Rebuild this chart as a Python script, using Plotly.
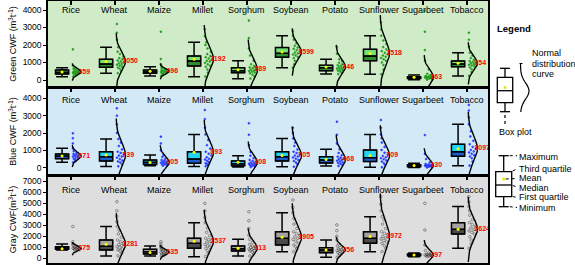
import numpy as np
import plotly.graph_objects as go

crops = ["Rice", "Wheat", "Maize", "Millet", "Sorghum", "Soybean", "Potato", "Sunflower", "Sugarbeet", "Tobacco"]

# ---------------- Green CWF ----------------
green_min = [190, 380, 230, 190, 75, 700, 340, 325, 10, 230]
green_q1 = [340, 725, 380, 800, 420, 1300, 530, 1100, 80, 760]
green_median = [440, 915, 475, 1085, 530, 1525, 700, 1370, 130, 915]
green_q3 = [570, 1180, 570, 1370, 700, 1850, 840, 1750, 190, 1085]
green_max = [700, 1870, 760, 2150, 1100, 2530, 1180, 2530, 280, 1560]
green_mean = [459, 1050, 496, 1192, 589, 1599, 746, 1518, 163, 954]
green_sd = [165, 540, 150, 650, 575, 450, 420, 730, 420, 400]
green_points = [
    [200, 260, 310, 340, 360, 390, 410, 430, 440, 455, 470, 490, 520, 545, 570, 600, 640, 700, 820, 1750],
    [390, 520, 640, 700, 760, 820, 870, 910, 950, 1000, 1060, 1120, 1180, 1250, 1350, 1480, 1620, 1870, 2300, 2700, 3200],
    [230, 290, 340, 380, 410, 440, 460, 480, 500, 520, 545, 570, 620, 690, 760, 900, 1200, 2760],
    [200, 420, 600, 750, 820, 900, 980, 1050, 1100, 1160, 1230, 1300, 1370, 1480, 1620, 1800, 2000, 2150, 2500, 2900],
    [80, 200, 300, 380, 430, 470, 510, 540, 580, 630, 680, 720, 800, 900, 1100, 1400, 1800, 2400, 3400],
    [700, 900, 1100, 1250, 1320, 1400, 1460, 1520, 1570, 1630, 1700, 1780, 1850, 1950, 2100, 2300, 2530, 2800],
    [340, 420, 480, 530, 570, 610, 650, 690, 720, 760, 800, 840, 900, 980, 1080, 1180, 1500, 1900],
    [330, 600, 850, 1000, 1100, 1180, 1260, 1330, 1400, 1470, 1550, 1650, 1750, 1880, 2050, 2250, 2530, 2900, 3300],
    [20, 50, 80, 100, 120, 140, 150, 160, 170, 180, 200, 230, 280, 350, 600, 1100, 1710, 2760, 3950],
    [240, 450, 620, 720, 780, 830, 870, 910, 950, 990, 1030, 1080, 1150, 1250, 1400, 1560, 1900, 2300, 2700],
]

# ---------------- Blue CWF ----------------
blue_min = [310, 75, 115, 75, 40, 60, 95, 20, 10, 115]
blue_q1 = [520, 385, 190, 250, 115, 385, 270, 350, 60, 655]
blue_median = [670, 635, 310, 500, 230, 635, 440, 580, 110, 920]
blue_q3 = [790, 920, 440, 920, 385, 920, 635, 1020, 170, 1350]
blue_max = [1115, 1650, 730, 1920, 690, 1690, 1060, 1920, 260, 2500]
blue_mean = [671, 739, 305, 893, 308, 705, 468, 709, 130, 1097]
blue_sd = [210, 700, 330, 620, 400, 555, 470, 580, 330, 710]
blue_points = [
    [310, 400, 470, 520, 560, 600, 640, 670, 700, 730, 760, 790, 850, 950, 1115, 1400, 1700, 1980],
    [80, 200, 300, 360, 420, 500, 580, 640, 700, 780, 850, 920, 1050, 1250, 1450, 1650, 2000, 2500, 3000, 3420],
    [115, 150, 180, 200, 230, 260, 290, 310, 340, 370, 410, 440, 520, 620, 730, 1000, 1400, 1790],
    [80, 150, 220, 260, 330, 400, 470, 520, 600, 700, 800, 920, 1100, 1300, 1600, 1920, 2300, 2800, 3330],
    [40, 80, 110, 140, 170, 200, 230, 260, 300, 340, 385, 450, 550, 690, 900, 1300, 1900, 2560],
    [60, 200, 300, 380, 450, 520, 590, 640, 700, 770, 840, 920, 1050, 1250, 1450, 1690, 2000, 2300],
    [95, 160, 220, 270, 310, 360, 400, 440, 480, 530, 580, 635, 720, 850, 1060, 1400, 1900, 2650],
    [20, 150, 260, 350, 420, 490, 550, 600, 680, 760, 860, 1020, 1200, 1450, 1700, 1920, 2300, 2750],
    [10, 40, 60, 80, 100, 110, 120, 130, 140, 160, 180, 220, 300, 500, 800, 1880],
    [120, 350, 550, 650, 720, 800, 880, 940, 1020, 1100, 1200, 1350, 1550, 1800, 2100, 2500, 2900, 3300, 3620],
]

# ---------------- Gray CWF ----------------
gray_min = [750, 210, 210, 150, 210, 600, 90, 600, 150, 905]
gray_q1 = [815, 755, 390, 905, 660, 1210, 510, 1360, 220, 2200]
gray_median = [905, 1100, 600, 1360, 875, 1810, 755, 1810, 290, 2620]
gray_q3 = [1055, 1660, 815, 1810, 1115, 2410, 965, 2410, 380, 3230]
gray_max = [1300, 2870, 1115, 3230, 1720, 4130, 1660, 3770, 480, 4680]
gray_mean = [875, 1281, 535, 1537, 913, 1905, 756, 1972, 297, 2624]
gray_sd = [200, 930, 220, 945, 600, 1025, 400, 1300, 455, 985]
gray_points = [
    [750, 780, 810, 840, 870, 890, 910, 940, 980, 1020, 1060, 1150, 1300, 1500, 2870],
    [220, 450, 650, 750, 850, 950, 1050, 1150, 1250, 1380, 1500, 1660, 1900, 2200, 2550, 2870, 3300, 3800, 4300, 5130],
    [210, 280, 340, 390, 440, 490, 540, 590, 640, 700, 760, 815, 900, 1000, 1115, 1300, 1500],
    [160, 450, 700, 900, 1000, 1120, 1250, 1360, 1480, 1600, 1700, 1810, 2050, 2350, 2750, 3230, 3700, 4300, 4980],
    [210, 400, 550, 660, 720, 790, 850, 900, 960, 1030, 1115, 1250, 1450, 1720, 2100, 2700, 3400, 4220],
    [600, 850, 1050, 1210, 1380, 1550, 1700, 1810, 1950, 2100, 2250, 2410, 2700, 3100, 3600, 4130, 4600, 5280],
    [90, 250, 400, 510, 580, 650, 720, 760, 820, 890, 965, 1100, 1300, 1660, 2000, 2500, 3020],
    [600, 900, 1150, 1360, 1480, 1620, 1750, 1850, 1980, 2120, 2260, 2410, 2700, 3100, 3500, 3770, 4300, 4900, 5580],
    [150, 190, 220, 250, 270, 290, 310, 330, 360, 400, 480, 700, 1200, 2560, 4980],
    [905, 1300, 1650, 1950, 2200, 2350, 2480, 2600, 2750, 2900, 3050, 3230, 3500, 3900, 4300, 4680, 5100, 5580],
]

ticks_4000 = [0, 1000, 2000, 3000, 4000]
ticks_7000 = [0, 1000, 2000, 3000, 4000, 5000, 6000, 7000]

FONT = "Arial, Liberation Sans, sans-serif"
W, H = 575, 265
ML, MR, MT, MB = 48, 87, 1, 2
PW, PH = W - ML - MR, H - MT - MB


def pxx(p):
    return (p - ML) / PW


def pxy(p):
    return (H - MB - p) / PH


panels = [
    dict(mins=green_min, q1=green_q1, med=green_median, q3=green_q3, maxs=green_max, mean=green_mean, sd=green_sd,
         pts=green_points, bg="#d0ebc8", light="#74e274", dark="#2f8f2f", ptcolor="#1f9e1f", ptsym="circle",
         yrange=[-400, 4514], ticks=ticks_4000, title="Green CWF (m<sup>3</sup>t<sup>-1</sup>)",
         dom=[pxy(87), pxy(1)], lab_shift=-9),
    dict(mins=blue_min, q1=blue_q1, med=blue_median, q3=blue_q3, maxs=blue_max, mean=blue_mean, sd=blue_sd,
         pts=blue_points, bg="#d3e9f6", light="#22d3f2", dark="#1f5ccc", ptcolor="#2a3cff", ptsym="circle",
         yrange=[-421, 4594], ticks=ticks_4000, title="Blue CWF (m<sup>3</sup>t<sup>-1</sup>)",
         dom=[pxy(175), pxy(88)], lab_shift=-12),
    dict(mins=gray_min, q1=gray_q1, med=gray_median, q3=gray_q3, maxs=gray_max, mean=gray_mean, sd=gray_sd,
         pts=gray_points, bg="#dedede", light="#a3a3a3", dark="#4a4a4a", ptcolor="#3a3a3a", ptsym="circle-open",
         yrange=[-426, 7453], ticks=ticks_7000, title="Gray CWF(m<sup>3</sup>t<sup>-1</sup>)",
         dom=[pxy(263), pxy(176)], lab_shift=-14),
]

fig = go.Figure()
annotations = []
pos = list(range(len(crops)))
box_pos = [p - 0.2 for p in pos]
CW = 0.21  # curve max width in category units

for k, P in enumerate(panels):
    sfx = "" if k == 0 else str(k + 1)
    xa, ya = "x" + sfx, "y" + sfx
    # lower half of box (Q1 -> median)
    fig.add_trace(go.Bar(x=box_pos, base=P["q1"], y=[m - q for m, q in zip(P["med"], P["q1"])], width=0.3,
                         marker=dict(color=P["dark"], line=dict(color="black", width=1)),
                         xaxis=xa, yaxis=ya, showlegend=False, hoverinfo="skip"))
    # upper half of box (median -> Q3)
    fig.add_trace(go.Bar(x=box_pos, base=P["med"], y=[q - m for q, m in zip(P["q3"], P["med"])], width=0.3,
                         marker=dict(color=P["light"], line=dict(color="black", width=1)),
                         xaxis=xa, yaxis=ya, showlegend=False, hoverinfo="skip"))
    # box outline + whiskers
    fig.add_trace(go.Box(x=box_pos, q1=P["q1"], median=P["med"], q3=P["q3"], lowerfence=P["mins"],
                         upperfence=P["maxs"], orientation="v", width=0.3, whiskerwidth=0.9,
                         fillcolor="rgba(0,0,0,0)", line=dict(color="black", width=1.5),
                         boxpoints=False, xaxis=xa, yaxis=ya, showlegend=False, hoverinfo="skip"))
    # normal distribution curves
    cx, cy = [], []
    for i in pos:
        m, s = P["mean"][i], P["sd"][i]
        ys = np.linspace(m - 3 * s, m + 3 * s, 90)
        xs = i + 0.03 + CW * np.exp(-0.5 * ((ys - m) / s) ** 2)
        cx += list(xs) + [None]
        cy += list(ys) + [None]
    # scattered points
    sx, sy = [], []
    for i in pos:
        m, s = P["mean"][i], P["sd"][i]
        for j, v in enumerate(P["pts"][i]):
            w = CW * np.exp(-0.5 * ((v - m) / s) ** 2)
            frac = (j * 0.6180339 + 0.31) % 1.0
            sx.append(i + 0.045 + frac * max(w - 0.03, 0.0))
            sy.append(v)
    fig.add_trace(go.Scatter(x=sx, y=sy, mode="markers",
                             marker=dict(size=2 if P["ptsym"] == "circle" else 2.6, color=P["ptcolor"],
                                         symbol=P["ptsym"], line=dict(width=0.5, color=P["ptcolor"])),
                             xaxis=xa, yaxis=ya, showlegend=False, hoverinfo="skip"))
    fig.add_trace(go.Scatter(x=cx, y=cy, mode="lines", line=dict(color="black", width=1.4),
                             xaxis=xa, yaxis=ya, showlegend=False, hoverinfo="skip", connectgaps=False))
    # mean dots
    fig.add_trace(go.Scatter(x=box_pos, y=P["mean"], mode="markers",
                             marker=dict(size=3, color="#ffff00"),
                             xaxis=xa, yaxis=ya, showlegend=False, hoverinfo="skip"))
    # mean labels
    fig.add_trace(go.Scatter(x=[i + 0.17 for i in pos], y=P["mean"], mode="text",
                             text=[str(v) for v in P["mean"]], textposition="middle right",
                             textfont=dict(family=FONT, size=7, color="#ff0000", weight="bold"),
                             xaxis=xa, yaxis=ya, showlegend=False, hoverinfo="skip", cliponaxis=False))
    # category labels
    for i, c in enumerate(crops):
        annotations.append(dict(x=i, xref=xa, y=1, yref=ya + " domain", yshift=P["lab_shift"], text=c,
                                showarrow=False, yanchor="middle", xanchor="center",
                                font=dict(family=FONT, size=9, color="black")))
    fig.update_layout({
        ("xaxis" + sfx): dict(domain=[0, 1], range=[-0.52, 9.48], anchor=ya, showticklabels=False,
                              tickvals=pos, ticks="inside", ticklen=4, tickwidth=1.5, tickcolor="black",
                              side="top", showline=True, linecolor="black", linewidth=1.5, mirror=True,
                              showgrid=False, zeroline=False),
        ("yaxis" + sfx): dict(domain=P["dom"], range=P["yrange"], anchor=xa, tickvals=P["ticks"],
                              ticks="outside", ticklen=3, tickwidth=1, tickcolor="black",
                              showline=True, linecolor="black", linewidth=1.5, mirror=True,
                              showgrid=False, zeroline=False,
                              tickfont=dict(family=FONT, size=8.5, color="black"),
                              title=dict(text=P["title"], font=dict(family=FONT, size=9, color="black"),
                                         standoff=4)),
    })

shapes = []
# panel backgrounds
for k, P in enumerate(panels):
    sfx = "" if k == 0 else str(k + 1)
    shapes.append(dict(type="rect", xref="x" + sfx + " domain", yref="y" + sfx + " domain", x0=0, x1=1, y0=0, y1=1,
                       fillcolor=P["bg"], line=dict(width=0), layer="below"))


def line(x0, y0, x1, y1, dash="solid", width=1.3, color="black"):
    shapes.append(dict(type="line", xref="paper", yref="paper", x0=pxx(x0), y0=pxy(y0), x1=pxx(x1), y1=pxy(y1),
                       line=dict(color=color, width=width, dash=dash)))


def rect(x0, y0, x1, y1):
    shapes.append(dict(type="rect", xref="paper", yref="paper", x0=pxx(x0), y0=pxy(y0), x1=pxx(x1), y1=pxy(y1),
                       line=dict(color="black", width=1.3), fillcolor="white"))


def dot(xc, yc, r=1.5):
    shapes.append(dict(type="circle", xref="paper", yref="paper", x0=pxx(xc - r), x1=pxx(xc + r),
                       y0=pxy(yc + r), y1=pxy(yc - r), fillcolor="#e6e600", line=dict(width=0)))


def text(x, y, t, size=9, bold=False, anchor="left"):
    annotations.append(dict(x=pxx(x), y=pxy(y), xref="paper", yref="paper", text=t, showarrow=False,
                            xanchor=anchor, yanchor="middle",
                            font=dict(family=FONT, size=size, color="black", weight="bold" if bold else "normal")))


# Legend 1: box plot with normal curve
text(495, 28, "Legend", size=9.5, bold=True)
bx0, bx1 = 497.3, 512.7
bc = (bx0 + bx1) / 2
line(bc - 5, 68.3, bc + 5, 68.3)
line(bc, 68.3, bc, 77.3)
rect(bx0, 77.3, bx1, 102.7)
line(bx0, 90.7, bx1, 90.7)
dot(bc, 87.5)
line(bc, 102.7, bc, 111.7)
line(bc - 5, 111.7, bc + 5, 111.7)
line(bc, 115, bc, 126, dash="dot", width=1.2)
# curve glyph
gy = np.linspace(64, 112, 40)
gx = 520.5 + 8.5 * np.exp(-0.5 * ((gy - 91) / 8.0) ** 2)
path = "M " + " L ".join(f"{pxx(a):.5f},{pxy(b):.5f}" for a, b in zip(gx, gy))
shapes.append(dict(type="path", xref="paper", yref="paper", path=path, line=dict(color="black", width=1.2)))
line(519.5, 63.5, 525.5, 63.5, dash="dot", width=1)
text(530, 52.7, "Normal")
text(530, 63.5, "distribution")
text(530, 74.3, "curve")
text(497, 132.3, "Box plot")

# Legend 2: box plot parts
cx0, cx1 = 495.7, 511.7
cc = (cx0 + cx1) / 2
line(cc - 5, 155.7, cc + 5, 155.7)
line(cc, 155.7, cc, 171.7)
rect(cx0, 171.7, cx1, 196.7)
line(cx0, 185, cx1, 185)
dot(cc, 179)
line(cc, 196.7, cc, 206.7)
line(cc - 5, 206.7, cc + 5, 206.7)
lx = 517
line(cc + 6, 155.7, lx, 155.7, dash="dot", width=1)
line(cx1 + 1, 171.0, lx, 168.8, dash="dot", width=1)
line(cc + 2, 179, lx, 178.5, dash="dot", width=1)
line(cx1 + 1, 185.5, lx, 187.0, dash="dot", width=1)
line(cx1 + 1, 196.5, lx, 197.5, dash="dot", width=1)
line(cc + 6, 206.7, lx, 207.5, dash="dot", width=1)
text(lx, 156.7, "Maximum")
text(lx, 169.0, "Third quartile")
text(lx, 178.3, "Mean")
text(lx, 187.7, "Median")
text(lx, 197.3, "First quartile")
text(lx, 207.7, "Minimum")

fig.update_layout(
    width=W, height=H, margin=dict(l=ML, r=MR, t=MT, b=MB, autoexpand=False),
    paper_bgcolor="white", plot_bgcolor="rgba(0,0,0,0)",
    barmode="overlay", boxmode="overlay", showlegend=False,
    font=dict(family=FONT, color="black"),
    shapes=shapes, annotations=annotations,
)

fig.write_html("out.html", config={"displayModeBar": False},
               post_script="document.body.style.margin='0';")
